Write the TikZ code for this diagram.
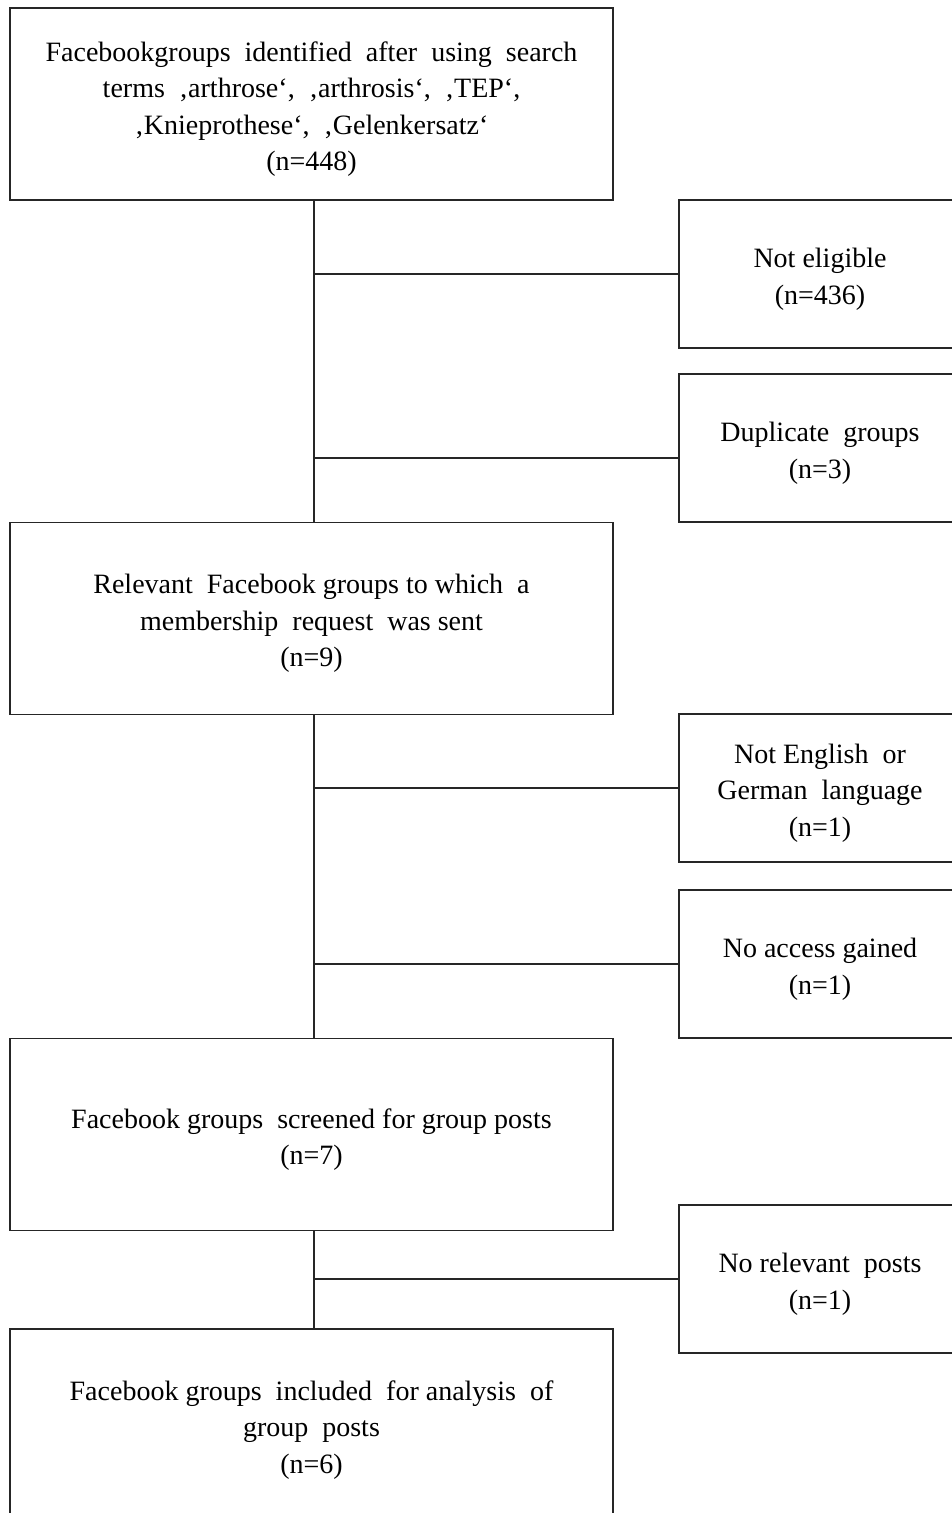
\documentclass[tikz,border=0pt]{standalone}
\usepackage{fontspec}
\setmainfont{Liberation Serif}
\newcommand\boxtxt[1]{\raisebox{-4.5pt}[\height][\depth]{\begin{tabular}{@{}c@{}}#1\end{tabular}}}
\begin{document}
\begin{tikzpicture}[x=1pt,y=-1pt,
  box/.style={draw=black!85,line width=1.8pt,inner sep=0pt,
    font=\fontsize{28}{36.5}\selectfont},
  mainbox/.style={box,minimum width=603pt,minimum height=192pt},
  sidebox/.style={box,minimum width=282pt,minimum height=148pt},
  conn/.style={draw=black!85,line width=1.8pt}]
\useasboundingbox (0,0) rectangle (952,1513);
\begin{scope}
\clip (0,0) rectangle (952,1513);
\fill[white] (0,0) rectangle (952,1513);
\node[mainbox] (b1) at (311.5,104) {\boxtxt{Facebookgroups\ \ identified\ \ after\ \ using\ \ search\\terms\ \ ‚arthrose‘,\ \ ‚arthrosis‘,\ \ ‚TEP‘,\\‚Knieprothese‘,\ \ ‚Gelenkersatz‘\\(n=448)}};
\node[sidebox] (s1) at (820,274) {\boxtxt{Not eligible\\(n=436)}};
\node[sidebox] (s2) at (820,448) {\boxtxt{Duplicate\ \ groups\\(n=3)}};
\node[mainbox] (b2) at (311.5,618.5) {\boxtxt{Relevant\ \ Facebook groups to which\ \ a\\membership\ \ request\ \ was sent\\(n=9)}};
\node[sidebox] (s3) at (820,788) {\boxtxt{Not English\ \ or\\German\ \ language\\(n=1)}};
\node[sidebox] (s4) at (820,964) {\boxtxt{No access gained\\(n=1)}};
\node[mainbox] (b3) at (311.5,1134.5) {\boxtxt{Facebook groups\ \ screened\ for group\ posts\\(n=7)}};
\node[sidebox] (s5) at (820,1279) {\boxtxt{No relevant\ \ posts\\(n=1)}};
\node[mainbox] (b4) at (311.5,1425) {\boxtxt{Facebook groups\ \ included\ \ for analysis\ \ of\\group\ \ posts\\(n=6)}};
\draw[conn] ([xshift=2.5pt]b1.south) -- ([xshift=2.5pt]b2.north);
\draw[conn] ([xshift=2.5pt]b2.south) -- ([xshift=2.5pt]b3.north);
\draw[conn] ([xshift=2.5pt]b3.south) -- ([xshift=2.5pt]b4.north);
\draw[conn] ([xshift=2.5pt]b1.south |- s1.west) -- (s1.west);
\draw[conn] ([xshift=2.5pt,yshift=-10pt]b1.south |- s2.west) -- ([yshift=-10pt]s2.west);
\draw[conn] ([xshift=2.5pt]b2.south |- s3.west) -- (s3.west);
\draw[conn] ([xshift=2.5pt]b2.south |- s4.west) -- (s4.west);
\draw[conn] ([xshift=2.5pt]b3.south |- s5.west) -- (s5.west);
\end{scope}
\end{tikzpicture}
\end{document}
